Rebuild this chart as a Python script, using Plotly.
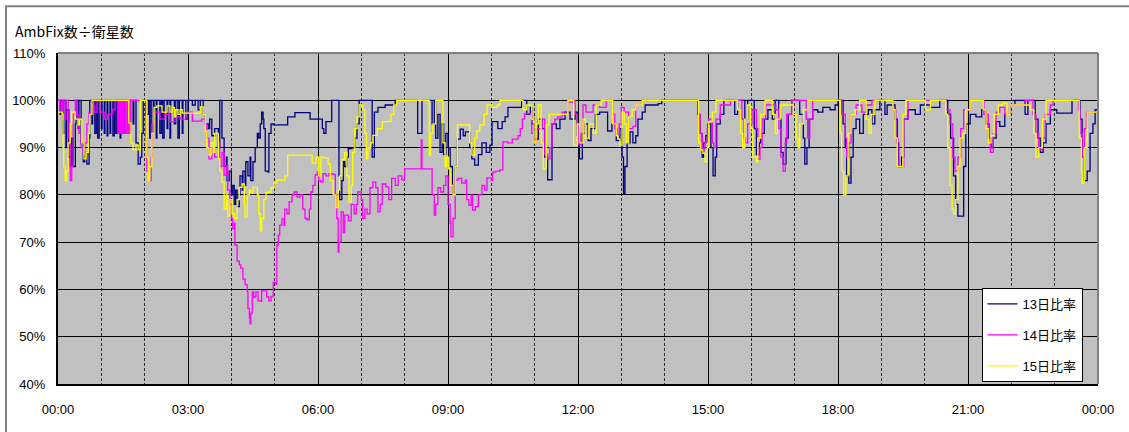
import plotly.graph_objects as go

# Ratio of ambiguity-fixed satellites to tracked satellites over one day,
# stored as (minute of day, percent) step points for each observation day.
ratio_13 = [
    (0, 100), (3, 97), (4, 100), (7, 93), (8, 100), (11, 90), (12, 98), (15, 88), (17, 86),
    (19, 92), (21, 86), (24, 95), (25, 100), (28, 94), (29, 100), (32, 91), (35, 87), (37, 89),
    (40, 86.5), (43, 92), (44, 100), (47, 95), (48, 100), (51, 93), (53, 100), (55, 92), (57, 100),
    (60, 94), (61, 100), (64, 93), (65, 100), (68, 92.5), (69, 100), (72, 93), (73, 100),
    (76, 92.5), (78, 100), (80, 93), (82, 100), (86, 92), (87, 100), (91, 93), (93, 100),
    (97, 96), (100, 100), (104, 95), (105, 100), (108, 91), (111, 86.5), (114, 88), (116, 93),
    (118, 100), (122, 97), (125, 100), (127, 92), (129, 100), (132, 93), (133, 100), (136, 92),
    (137, 100), (141, 93), (143, 100), (145, 92), (147, 100), (151, 94), (152, 100), (155, 92),
    (156, 100), (161, 95), (163, 100), (166, 92), (168, 100), (172, 93), (173, 100), (177, 96),
    (180, 100), (186, 99), (190, 100), (194, 98), (197, 100), (201, 97), (204, 95), (208, 94),
    (210, 96), (213, 92.5), (217, 94), (222, 90), (224, 100), (227, 92), (230, 86), (233, 88),
    (234, 83), (237, 85), (240, 80), (242, 82), (244, 78), (246, 81), (248, 77.5), (251, 80),
    (252, 84), (255, 81), (256, 85), (259, 82), (260, 87), (263, 84), (266, 88), (267, 83),
    (270, 87), (273, 90), (276, 93), (278, 92), (280, 95), (282, 97.5), (284, 96), (285, 94),
    (287, 85), (291, 84.8), (292, 93), (295, 95), (298, 94.8), (318, 96.5), (328, 97.4),
    (349, 96), (366, 94), (368, 93), (371, 95.5), (379, 100), (389, 84), (390, 79), (393, 83),
    (395, 87), (397, 86), (400, 88), (402, 89.8), (407, 90), (411, 92), (414, 95), (417, 100),
    (435, 88), (438, 97.5), (443, 98.5), (453, 99), (467, 100), (498, 93), (504, 100), (518, 95),
    (521, 100), (523, 92), (526, 97), (529, 89), (532, 95), (534, 88.5), (537, 93), (540, 90),
    (543, 86), (546, 82), (547, 80.5), (550, 86), (553, 91.8), (557, 93.9), (561, 92.5),
    (564, 93.3), (570, 90), (573, 87.6), (577, 86.3), (582, 88.5), (587, 91), (593, 89),
    (598, 90.5), (601, 95.5), (609, 94), (615, 95.5), (619, 96.5), (623, 98.5), (642, 100),
    (649, 97), (654, 98.5), (656, 95), (659, 91.8), (665, 96), (670, 94), (674, 88), (678, 83.2),
    (684, 95), (690, 94), (695, 96), (702, 97.5), (709, 96), (716, 97.5), (719, 92.6), (722, 87.6),
    (726, 93), (730, 95), (734, 91.5), (738, 94), (744, 97), (750, 97.5), (761, 93.5), (767, 95),
    (773, 91.5), (778, 94), (781, 88), (783, 80.2), (785, 86), (788, 91), (792, 93.3), (796, 91),
    (800, 92.5), (803, 96), (809, 97.5), (813, 99), (831, 99.3), (836, 100), (886, 97), (889, 93),
    (892, 88), (894, 91), (897, 92.5), (900, 95), (904, 90), (907, 84), (910, 88), (912, 95),
    (917, 97), (922, 100), (937, 97), (941, 100), (951, 96), (955, 100), (964, 94), (967, 88.5),
    (971, 91), (973, 93), (978, 96), (983, 98), (989, 96), (993, 100), (998, 96), (1001, 89),
    (1004, 86.5), (1008, 92), (1011, 97), (1016, 100), (1027, 97), (1032, 92), (1034, 86.5),
    (1037, 90), (1040, 96), (1045, 98), (1052, 97.5), (1059, 98.5), (1069, 98), (1076, 99),
    (1080, 100), (1087, 95), (1090, 90), (1092, 84), (1095, 82.5), (1098, 88), (1101, 94),
    (1105, 96), (1110, 93), (1115, 97), (1122, 98), (1127, 95), (1131, 98), (1138, 100),
    (1145, 97), (1148, 99), (1159, 96), (1162, 91), (1164, 86), (1168, 88), (1171, 96),
    (1177, 98), (1187, 97), (1194, 99), (1208, 98.5), (1221, 100), (1232, 97), (1236, 92),
    (1240, 84), (1243, 78), (1246, 75.5), (1252, 75.5), (1254, 86), (1257, 95), (1263, 97),
    (1271, 96.5), (1279, 98), (1285, 95), (1289, 92), (1292, 90), (1295, 92), (1299, 95.5),
    (1304, 94.5), (1311, 97), (1318, 99), (1325, 100), (1339, 97), (1343, 100), (1353, 96),
    (1357, 92), (1360, 89), (1364, 91), (1368, 95), (1374, 98), (1383, 97.3), (1404, 100),
    (1415, 96), (1418, 88), (1421, 83), (1425, 85), (1429, 93), (1433, 95), (1436, 98),
    (1440, 97),
]

ratio_14 = [
    (0, 100), (3, 98), (6, 100), (8, 96), (11, 100), (14, 92), (17, 83), (19, 86), (21, 97),
    (24, 100), (26, 97), (29, 93), (32, 90), (35, 88.4), (37, 91), (40, 95), (43, 97.5), (47, 99),
    (50, 97.5), (54, 100), (58, 97.5), (64, 96), (69, 97), (75, 98), (79, 100), (83, 93), (84, 100),
    (86, 93), (87, 100), (89, 93), (90, 100), (91, 93), (93, 100), (94, 93), (96, 100), (97, 93),
    (98, 100), (100, 93), (101, 100), (122, 92), (123, 85), (126, 83), (129, 88), (130, 95),
    (133, 97.5), (141, 96), (148, 97), (155, 95.5), (162, 96.5), (169, 96), (177, 97.5),
    (186, 95.6), (199, 96), (204, 95), (206, 92), (209, 87.6), (213, 90), (217, 88), (222, 91),
    (224, 86), (227, 89), (230, 84.2), (233, 86), (235, 81), (238, 77.8), (240, 75), (242, 72.8),
    (244, 74), (245, 69.4), (248, 66), (251, 65.2), (253, 64.5), (256, 62.2), (259, 61),
    (262, 59.5), (263, 56), (265, 54), (266, 52.7), (267, 55), (269, 59.5), (271, 58.4),
    (274, 59.5), (277, 57.6), (281, 57.5), (282, 59.7), (288, 59.7), (289, 58.4), (292, 57.6),
    (295, 58.5), (298, 61.5), (302, 61), (303, 69.4), (305, 71.5), (307, 73.6), (310, 74.9),
    (313, 73.5), (314, 77), (317, 76), (320, 78.5), (324, 80), (327, 80.6), (331, 79.5), (335, 80),
    (339, 77), (342, 75), (345, 74.7), (348, 77), (350, 80.6), (353, 82), (356, 84.2), (359, 84.8),
    (361, 83), (364, 82.7), (367, 84.5), (371, 84), (375, 84.5), (381, 84.3), (384, 80), (386, 75),
    (388, 67.9), (389, 70), (392, 76.4), (395, 72), (397, 75.7), (402, 74.5), (406, 78), (410, 76),
    (413, 78), (415, 80.6), (420, 79), (422, 75), (425, 77), (428, 76), (432, 81.5), (436, 82.7),
    (440, 81.5), (443, 76.4), (446, 78), (449, 82.3), (454, 81.7), (458, 79), (462, 83.5),
    (467, 82), (471, 84), (476, 83.2), (480, 85.5), (503, 91.6), (504, 85.5), (518, 80),
    (521, 75.7), (523, 78), (526, 81.5), (530, 80.6), (534, 82), (537, 84), (540, 78), (543, 74),
    (544, 71.1), (547, 75), (550, 83.1), (554, 83.5), (559, 82.5), (564, 83.1), (566, 79),
    (569, 77.8), (572, 80), (574, 76.8), (578, 77.5), (582, 80), (587, 82), (591, 81), (594, 83.6),
    (600, 83), (602, 84.8), (606, 85), (612, 85.3), (616, 91.2), (623, 91), (629, 91.8),
    (637, 92.5), (640, 94), (643, 96), (646, 97.2), (654, 97), (656, 93), (659, 91), (662, 94),
    (670, 96), (674, 88.6), (678, 87.6), (681, 90), (684, 95), (688, 96), (692, 96.5), (698, 97.5),
    (703, 97), (706, 99.6), (713, 100), (716, 97), (719, 94.8), (721, 90.5), (724, 93), (727, 99),
    (731, 97.5), (741, 99), (750, 98.5), (759, 100), (768, 97), (771, 94), (774, 92.6), (777, 95),
    (780, 98.5), (784, 97.5), (790, 94), (796, 94.5), (800, 99), (809, 100), (886, 97), (889, 93),
    (892, 89.8), (896, 91.2), (899, 94), (901, 96), (906, 91), (908, 90), (911, 96), (917, 99),
    (931, 100), (947, 96), (950, 92), (952, 91), (955, 95), (961, 98), (967, 94), (969, 87.5),
    (972, 90), (975, 96), (980, 99), (994, 98), (998, 94), (1001, 88), (1004, 85), (1007, 91),
    (1009, 97), (1016, 100), (1036, 96), (1038, 92), (1041, 96), (1045, 100), (1085, 97),
    (1090, 92), (1092, 88), (1095, 91), (1098, 97), (1105, 99), (1113, 97.5), (1119, 99),
    (1127, 100), (1156, 98), (1160, 92), (1163, 86), (1168, 86), (1171, 96), (1177, 100),
    (1229, 98), (1235, 95), (1239, 88), (1242, 85), (1246, 88), (1250, 94), (1254, 98),
    (1263, 100), (1282, 97), (1288, 92), (1291, 89), (1295, 93), (1299, 97.5), (1304, 98.5),
    (1311, 97), (1318, 99), (1339, 100), (1350, 97), (1354, 93), (1358, 89.5), (1363, 92),
    (1367, 97), (1374, 99), (1378, 100), (1413, 98), (1415, 93), (1418, 88), (1421, 94),
    (1424, 97.5), (1440, 97.5),
]

ratio_15 = [
    (0, 97.5), (6, 97), (7, 90), (8, 86), (10, 83), (12, 85), (14, 91), (17, 95), (19, 97.5),
    (24, 96), (28, 94.8), (30, 96), (33, 91), (36, 87.6), (39, 89), (42, 93), (44, 97), (47, 100),
    (98, 95.2), (101, 91), (104, 89.5), (108, 90.5), (111, 89.5), (114, 100), (123, 88), (125, 83),
    (127, 86), (130, 93), (133, 98.5), (137, 98.8), (144, 97.5), (151, 98.8), (155, 97.5),
    (158, 98.5), (161, 96.5), (163, 98), (166, 97), (169, 98), (172, 97.3), (197, 98.6), (201, 97),
    (204, 93.5), (206, 90), (209, 88.4), (212, 91), (215, 89), (217, 93), (222, 87.6), (224, 85),
    (227, 82.7), (230, 77), (233, 80), (235, 75.5), (238, 79), (241, 76), (244, 75), (248, 79),
    (251, 81.6), (255, 82.3), (258, 78), (259, 75.3), (262, 80), (265, 81), (267, 80.5),
    (270, 81.6), (276, 80), (278, 76), (280, 72.4), (282, 75), (285, 79), (288, 80.5), (291, 80.6),
    (295, 81.5), (299, 82.5), (303, 83.1), (314, 84), (318, 88.4), (352, 86.7), (357, 88),
    (361, 84), (364, 88), (368, 87.8), (374, 86.5), (377, 83), (381, 80), (385, 77.3), (388, 81),
    (390, 84), (393, 87.5), (397, 89), (400, 84), (403, 78.5), (406, 82), (408, 89), (411, 94),
    (414, 96.5), (417, 99), (422, 98), (425, 93), (427, 87.6), (429, 90), (433, 91), (436, 92.6),
    (442, 94), (449, 95.5), (461, 97), (465, 99), (469, 100), (514, 88.4), (516, 93), (519, 95),
    (523, 100), (533, 91), (536, 86), (538, 88), (541, 85.5), (544, 82), (547, 80), (550, 86),
    (553, 94.8), (570, 91), (573, 88.4), (577, 92), (580, 93.5), (584, 94.8), (590, 97), (594, 99),
    (601, 98.5), (608, 99), (612, 100), (644, 98), (649, 99), (656, 96), (659, 91), (662, 95),
    (665, 99), (669, 91), (672, 85.5), (676, 94.8), (680, 97), (706, 100), (714, 90.5), (719, 95),
    (722, 91), (727, 96), (730, 92), (735, 95), (741, 93), (745, 99), (752, 100), (768, 95),
    (773, 92.5), (775, 91.8), (778, 90.5), (781, 97.5), (784, 95), (787, 91), (790, 96.5),
    (795, 98), (800, 99), (809, 100), (887, 91), (890, 89.5), (893, 88.8), (896, 87), (899, 90),
    (901, 95.5), (906, 97.5), (911, 100), (941, 98), (945, 93), (948, 90), (951, 96), (955, 99),
    (959, 94), (962, 88), (967, 87), (969, 92), (973, 97), (979, 100), (989, 97), (993, 93),
    (996, 96), (1000, 99), (1018, 97), (1022, 92), (1025, 90), (1027, 95), (1032, 98), (1038, 100),
    (1083, 93), (1085, 85), (1088, 80), (1091, 84), (1094, 93), (1098, 97), (1104, 98), (1110, 100),
    (1119, 96), (1123, 93), (1126, 97), (1131, 100), (1156, 98), (1159, 92), (1162, 86),
    (1166, 86), (1170, 97), (1174, 100), (1201, 98), (1208, 100), (1229, 97), (1232, 90),
    (1235, 82), (1238, 77), (1240, 76), (1243, 79), (1246, 86), (1249, 92), (1253, 93), (1257, 98),
    (1263, 100), (1281, 98), (1285, 94), (1288, 91), (1292, 92.5), (1296, 97), (1302, 99),
    (1308, 99.4), (1314, 97), (1318, 99), (1346, 98), (1351, 93), (1354, 88), (1358, 90),
    (1363, 96), (1368, 100), (1414, 92), (1417, 85), (1418, 82.5), (1421, 90), (1425, 97.5),
    (1440, 97.5),
]

series_names = ["13日比率", "14日比率", "15日比率"]
series_colors = ["#000080", "#FF00FF", "#FFFF00"]

x_tickvals = [0, 180, 360, 540, 720, 900, 1080, 1260, 1440]
x_ticktext = ["00:00", "03:00", "06:00", "09:00", "12:00", "15:00", "18:00", "21:00", "00:00"]
y_tickvals = [40, 50, 60, 70, 80, 90, 100, 110]

axis_title = "AmbFix数÷衛星数"
FONT = "Liberation Sans, Arial, Noto Sans CJK JP, sans-serif"
CJK_FONT = "Noto Sans CJK JP, sans-serif"

fig = go.Figure()
for name, color, pts in zip(series_names, series_colors, [ratio_13, ratio_14, ratio_15]):
    t, v = zip(*pts)
    fig.add_trace(go.Scatter(
        x=list(t), y=list(v), name=name, mode="lines",
        line=dict(color=color, width=1.3, shape="hv"),
        legendgroup=name,
    ))

fig.update_layout(
    width=1129, height=432,
    margin=dict(l=58, r=31, t=53, b=48),
    paper_bgcolor="white",
    plot_bgcolor="#C0C0C0",
    font=dict(family=FONT, size=13, color="black"),
    showlegend=True,
    legend=dict(
        x=0.888, y=0.29, xanchor="left", yanchor="top",
        bgcolor="white", bordercolor="black", borderwidth=1,
        font=dict(family=FONT, size=13, color="black"),
        traceorder="grouped", tracegroupgap=11,
        itemwidth=30,
    ),
    xaxis=dict(
        range=[0, 1440], tickmode="array", tickvals=x_tickvals, ticktext=x_ticktext,
        showgrid=True, gridcolor="black", gridwidth=1,
        minor=dict(dtick=60, tick0=0, showgrid=True, gridcolor="#303030",
                   gridwidth=1, griddash="3px,2px"),
        showline=True, linecolor="black", linewidth=2,
        ticks="", ticklabelstandoff=12, zeroline=False,
    ),
    yaxis=dict(
        range=[40, 110], tickmode="array", tickvals=y_tickvals,
        ticktext=[f"{v}%" for v in y_tickvals],
        showgrid=True, gridcolor="black", gridwidth=1,
        showline=True, linecolor="black", linewidth=2,
        ticks="", ticklabelstandoff=8, zeroline=False,
    ),
    annotations=[dict(
        text=axis_title, xref="paper", yref="paper", x=-0.043, y=1.066,
        xanchor="left", yanchor="middle", showarrow=False,
        font=dict(family=CJK_FONT, size=14, color="black"),
    )],
    shapes=[
        # grey top and right edges of the plot area
        dict(type="line", xref="paper", yref="paper", x0=0, x1=1, y0=1, y1=1,
             line=dict(color="#808080", width=2)),
        dict(type="line", xref="paper", yref="paper", x0=1, x1=1, y0=0, y1=1,
             line=dict(color="#808080", width=2)),
        # outer chart frame
        dict(type="rect", xref="paper", yref="paper", x0=-0.05, x1=1.04, y0=-0.2, y1=1.141,
             line=dict(color="#808080", width=2), fillcolor="rgba(0,0,0,0)"),
    ],
)

fig.write_html("out.html")
